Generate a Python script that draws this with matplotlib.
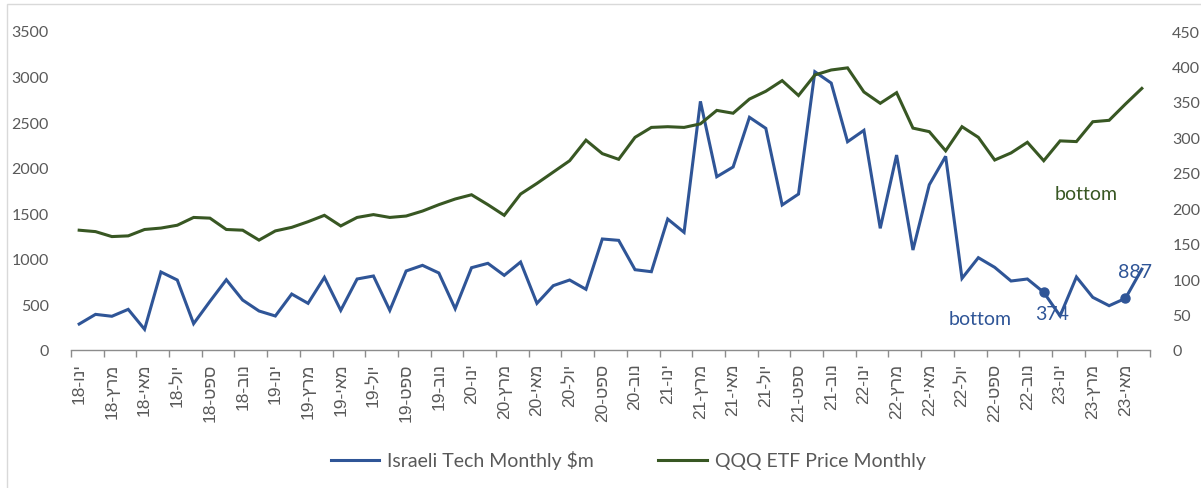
import matplotlib
matplotlib.use("Agg")
import matplotlib.pyplot as plt
from matplotlib.lines import Line2D
from matplotlib.patches import Rectangle
import numpy as np

# ---------------- data ----------------
tech_monthly = [285, 391, 370, 446, 227, 856, 768, 289, 534, 771, 548, 428,
                373, 614, 512, 797, 435, 779, 812, 435, 867, 929, 845, 453,
                903, 951, 819, 965, 512, 706, 768, 666, 1218, 1203, 881, 859,
                1437, 1291, 2728, 1901, 2008, 2553, 2432, 1591, 1711, 3053, 2929, 2285,
                2410, 1335, 2139, 1097, 1813, 2125, 786, 1013, 907, 757, 779, 633,
                374, 801, 578, 486, 567, 887]
qqq_monthly = [169, 167, 160, 161, 170, 172, 176, 187, 186, 170, 169, 155,
               168, 173, 181, 190, 175, 187, 191, 187, 189, 196, 205, 213,
               219, 205, 190, 220, 235, 251, 267, 296, 277, 269, 300, 314,
               315, 314, 319, 338, 334, 354, 365, 380, 359, 388, 395, 398,
               364, 348, 363, 313, 308, 281, 315, 300, 268, 278, 293, 267,
               295, 294, 322, 324, 347, 369]
tick_labels = ["ינו-18", "מרץ-18", "מאי-18", "יול-18", "ספט-18", "נוב-18",
               "ינו-19", "מרץ-19", "מאי-19", "יול-19", "ספט-19", "נוב-19",
               "ינו-20", "מרץ-20", "מאי-20", "יול-20", "ספט-20", "נוב-20",
               "ינו-21", "מרץ-21", "מאי-21", "יול-21", "ספט-21", "נוב-21",
               "ינו-22", "מרץ-22", "מאי-22", "יול-22", "ספט-22", "נוב-22",
               "ינו-23", "מרץ-23", "מאי-23"]
marker_idx = [59, 64]
label_low = "374"
label_last = "887"
series_names = ["Israeli Tech Monthly $m", "QQQ ETF Price Monthly"]

BLUE = "#2F5597"
GREEN = "#385723"
GREY_TXT = "#595959"
AX_GREY = "#8C8C8C"
LAT = ["Lato", "DejaVu Sans"]
HEB = ["Liberation Sans", "DejaVu Sans"]


def visual(s):
    """Visual (right-to-left) ordering of a Hebrew 'month-yy' label."""
    name, yy = s.split("-")
    return f"{yy}-{name[::-1]}"


W, H = 1201, 489
fig = plt.figure(figsize=(W / 100, H / 100), dpi=100)
ax = fig.add_axes([71 / W, 1 - 351 / H, (1150 - 71) / W, (351 - 32) / H])
ax2 = ax.twinx()

x = np.arange(len(tech_monthly))
ax.plot(x, tech_monthly, color=BLUE, lw=2.2, solid_joinstyle="miter", zorder=3)
ax.plot(x[marker_idx], np.array(tech_monthly)[marker_idx], "o", color=BLUE, ms=6.5, zorder=4)
ax2.plot(x, qqq_monthly, color=GREEN, lw=2.2, solid_joinstyle="miter", zorder=3)

ax.set_xlim(-0.5, len(x) - 0.5)
ax.set_ylim(0, 3500)
ax2.set_ylim(0, 450)
ax.set_yticks(np.arange(0, 3501, 500))
ax2.set_yticks(np.arange(0, 451, 50))

# x ticks: marks at boundaries, labels at every second month
ax.set_xticks(np.arange(-0.5, len(x), 2))
ax.set_xticklabels([])
ax.tick_params(axis="x", which="major", direction="out", length=5, width=1, color=AX_GREY)
ax.set_xticks(np.arange(0, 2 * len(tick_labels), 2), minor=True)
ax.set_xticklabels([visual(s) for s in tick_labels], minor=True, rotation=90,
                   fontsize=12.5, color=GREY_TXT, family=HEB)
ax.tick_params(axis="x", which="minor", length=0, pad=9)

for a in (ax, ax2):
    for sp in ("top", "left", "right"):
        a.spines[sp].set_visible(False)
    a.spines["bottom"].set_color(AX_GREY)
    a.spines["bottom"].set_linewidth(1)
ax2.spines["bottom"].set_visible(False)

ax.tick_params(axis="y", length=0, pad=16, labelsize=11.5, labelcolor=GREY_TXT)
ax2.tick_params(axis="y", length=0, pad=16, labelsize=11.5, labelcolor=GREY_TXT)
for lab in ax.get_yticklabels() + ax2.get_yticklabels():
    lab.set_family(LAT)

# annotations
ax.text(55.1, 351, "bottom", color=BLUE, fontsize=14, family=LAT, ha="center", va="center", zorder=5)
ax.text(61.6, 1720, "bottom", color=GREEN, fontsize=14, family=LAT, ha="center", va="center", zorder=5)
ax.text(59.5, 395, label_low, color=BLUE, fontsize=14, family=LAT, ha="center", va="center", zorder=5)
ax.text(64.6, 856, label_last, color=BLUE, fontsize=14, family=LAT, ha="center", va="center", zorder=5)

# legend
handles = [Line2D([], [], color=BLUE, lw=2.2), Line2D([], [], color=GREEN, lw=2.2)]
leg = fig.legend(handles, series_names, loc="center", bbox_to_anchor=(0.523, 1 - 461 / H),
                 ncol=2, frameon=False, handlelength=2.5, handletextpad=0.4,
                 columnspacing=3.3, prop={"family": LAT, "size": 14})
for t in leg.get_texts():
    t.set_color(GREY_TXT)

# chart-area border
fig.patches.append(Rectangle((7 / W, -0.05), 1.2, 1 - 5 / H + 0.05, transform=fig.transFigure,
                             fill=False, edgecolor="#D9D9D9", lw=1))

fig.savefig("out.png", dpi=100)
